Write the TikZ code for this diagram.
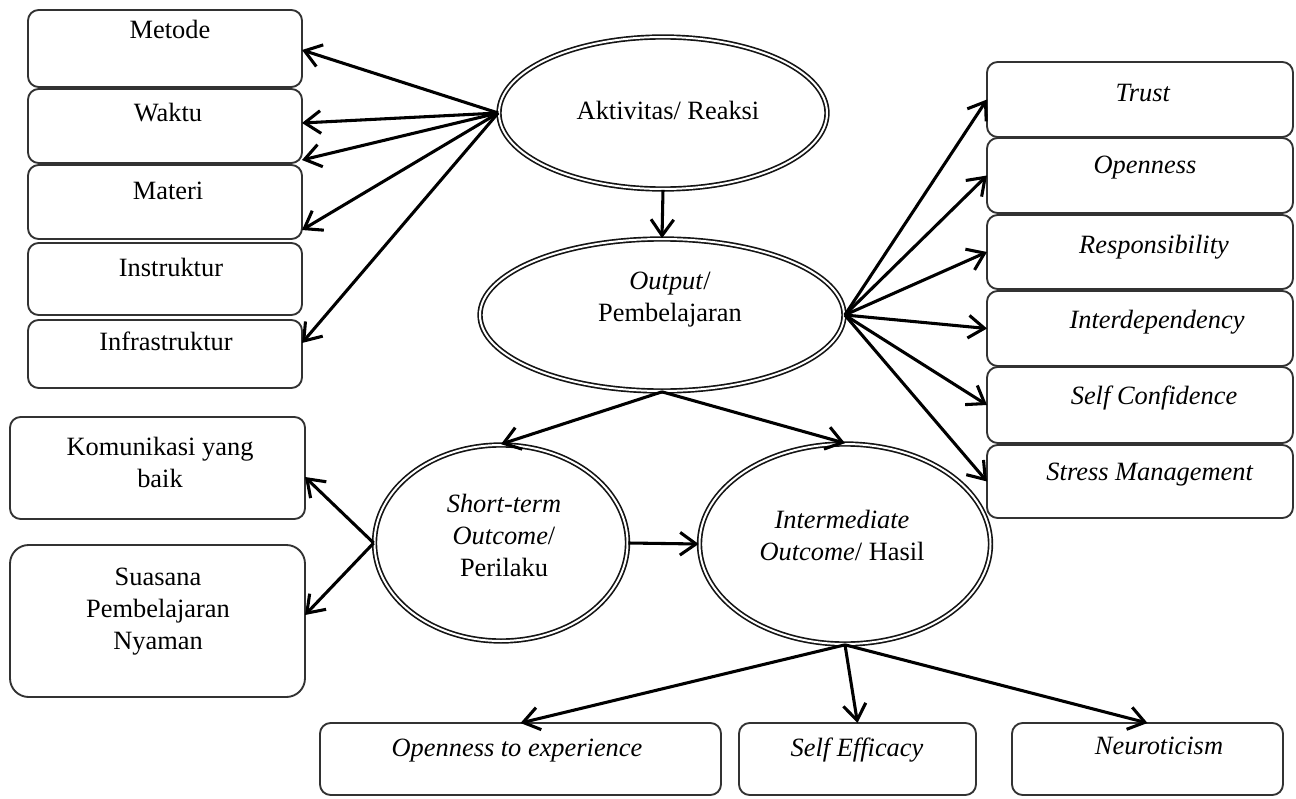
\documentclass[tikz,border=0pt]{standalone}
\usepackage{fontspec}
\setmainfont{Liberation Serif}
\usetikzlibrary{shapes.geometric,arrows.meta}

\begin{document}
\begin{tikzpicture}[x=0.75pt,y=0.75pt,yscale=-1,xscale=1,
  box/.style={draw={rgb,255:red,50;green,50;blue,50},line width=1.4pt,rounded corners=8pt,anchor=north west,inner sep=0pt,outer sep=0pt},
  oval/.style={ellipse,draw={rgb,255:red,20;green,20;blue,20},double,double distance=1.5pt,line width=1.25pt,inner sep=0pt},
  txt/.style={inner sep=0pt,font=\fontsize{19.8}{24}\selectfont,align=center},
  conn/.style={line width=2.3pt,-{Straight Barb[length=12pt,width=17pt]}}]
\useasboundingbox (0,0) rectangle (1296,799);

%Shape: Rounded Rect (left column)
\node[box,minimum width=205.5pt,minimum height=57.75pt] (metode) at (28,10) {};
\node[box,minimum width=205.5pt,minimum height=55.5pt] (waktu) at (28,89) {};
\node[box,minimum width=205.5pt,minimum height=55.5pt] (materi) at (28,165) {};
\node[box,minimum width=205.5pt,minimum height=54pt] (instruktur) at (28,243) {};
\node[box,minimum width=205.5pt,minimum height=51pt] (infra) at (28,320) {};
\node[box,minimum width=221.25pt,minimum height=76.5pt] (komunikasi) at (10,417) {};
\node[box,rounded corners=14pt,minimum width=221.25pt,minimum height=114pt] (suasana) at (10,545) {};
%Shape: Rounded Rect (right column)
\node[box,minimum width=229.5pt,minimum height=56.25pt] (trust) at (987,62) {};
\node[box,minimum width=229.5pt,minimum height=56.25pt] (openness) at (987,138) {};
\node[box,minimum width=229.5pt,minimum height=55.5pt] (resp) at (987,215) {};
\node[box,minimum width=229.5pt,minimum height=56.25pt] (interdep) at (987,291) {};
\node[box,minimum width=229.5pt,minimum height=57pt] (selfconf) at (987,367) {};
\node[box,minimum width=229.5pt,minimum height=54.75pt] (stress) at (987,445) {};
%Shape: Rounded Rect (bottom row)
\node[box,minimum width=300.75pt,minimum height=54pt] (openexp) at (320,723) {};
\node[box,minimum width=177.75pt,minimum height=54pt] (selfeff) at (739,723) {};
\node[box,minimum width=203.25pt,minimum height=54pt] (neuro) at (1012,723) {};

%Shape: Ellipse
\node[oval,minimum width=246pt,minimum height=114pt] (akt) at (663,113) {};
\node[oval,minimum width=273pt,minimum height=114pt] (out) at (662,315) {};
\node[oval,minimum width=189.75pt,minimum height=147pt] (short) at (501,543) {};
\node[oval,minimum width=218.25pt,minimum height=150pt] (inter) at (845,544) {};

% Text Node
\node[txt,anchor=base] (metode-t) at (170,39) {Metode};
\node[txt,anchor=base] (waktu-t) at (168,122) {Waktu};
\node[txt,anchor=base] (materi-t) at (168,199) {Materi};
\node[txt,anchor=base] (instruktur-t) at (171,276) {Instruktur};
\node[txt,anchor=base] (infra-t) at (166,350) {Infrastruktur};
\node[txt] (komunikasi-t) at (160,462) {Komunikasi yang\\baik};
\node[txt] (suasana-t) at (158,612) {Suasana\\Pembelajaran\\Nyaman};
% Text Node
\node[txt,anchor=base] (trust-t) at (1143,102) {\textit{Trust}};
\node[txt,anchor=base] (openness-t) at (1145,173) {\textit{Openness}};
\node[txt,anchor=base] (resp-t) at (1154,253) {\textit{Responsibility}};
\node[txt,anchor=base] (interdep-t) at (1157,328) {\textit{Interdependency}};
\node[txt,anchor=base] (selfconf-t) at (1154,404) {\textit{Self Confidence}};
\node[txt,anchor=base] (stress-t) at (1150,480) {\textit{Stress Management}};
% Text Node
\node[txt,anchor=base] (openexp-t) at (517,756) {\textit{Openness to experience}};
\node[txt,anchor=base] (selfeff-t) at (857,756) {\textit{Self Efficacy}};
\node[txt,anchor=base] (neuro-t) at (1159,754) {\textit{Neuroticism}};
% Text Node
\node[txt,anchor=base] (akt-t) at (668,119) {Aktivitas/ Reaksi};
\node[txt] (out-t) at (670,300) {\textit{Output}/\\Pembelajaran};
\node[txt] (short-t) at (504,535) {\textit{Short-term}\\\textit{Outcome}/\\Perilaku};
\node[txt] (inter-t) at (842,535) {\textit{Intermediate}\\\textit{Outcome}/ Hasil};

%Straight Lines
\draw[conn] (akt.west) -- (metode.east |- 0,50);
\draw[conn] (akt.west) -- (waktu.east |- 0,123);
\draw[conn] (akt.west) -- (waktu.east |- 0,160);
\draw[conn] (akt.west) -- (materi.east |- 0,230);
\draw[conn] (akt.west) -- (infra.east |- 0,343);
\draw[conn] (akt.south) -- (out.north);
%Straight Lines
\draw[conn] (out.east) -- (trust.west);
\draw[conn] (out.east) -- (openness.west);
\draw[conn] (out.east) -- (resp.west);
\draw[conn] (out.east) -- (interdep.west);
\draw[conn] (out.east) -- (selfconf.west);
\draw[conn] (out.east) -- (stress.west);
\draw[conn] (out.south) -- (short.north);
\draw[conn] (out.south) -- (inter.north);
%Straight Lines
\draw[conn] (short.west) -- (komunikasi.east |- 0,477);
\draw[conn] (short.west) -- (suasana.east |- 0,615);
\draw[conn] (short.east) -- (inter.west);
\draw[conn] (inter.south) -- (openexp.north);
\draw[conn] (inter.south) -- (selfeff.north);
\draw[conn] (inter.south) -- (neuro.north);

\end{tikzpicture}
\end{document}
